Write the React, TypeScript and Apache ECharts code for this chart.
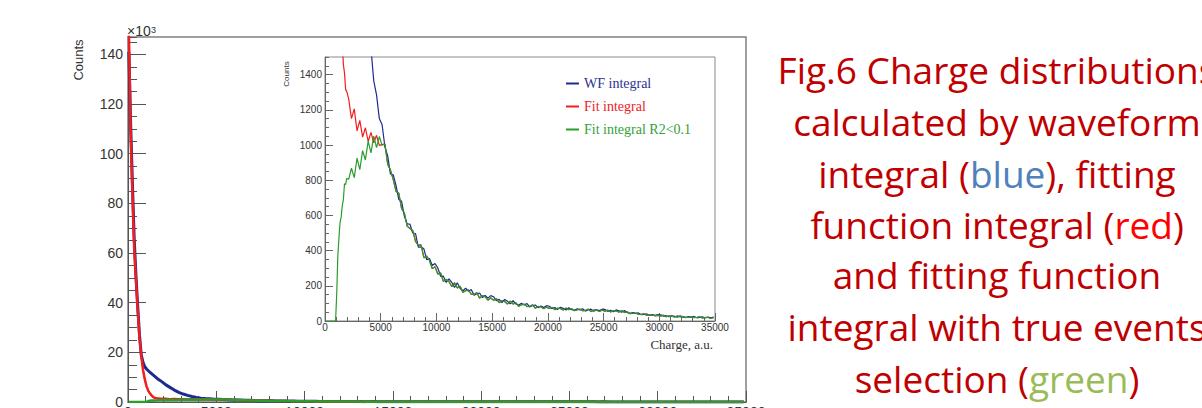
import React, { useEffect, useRef } from "react";
import * as echarts from "echarts";

// Bin centres (charge, a.u.)
const HEAD_CHARGE = [50, 150, 250, 350, 450, 550, 650, 750, 850, 950, 1050, 1150, 1250, 1350, 1450, 1550, 1650, 1750, 1850, 1950];
const TAIL_CHARGE = [
  2125, 2375, 2625, 2875, 3125, 3375, 3625, 3875, 4125, 4375, 4625, 4875,
  5125, 5375, 5625, 5875, 6125, 6375, 6625, 6875, 7125, 7375,
  7625, 7875, 8125, 8375, 8625, 8875, 9125, 9375, 9625, 9875,
  10125, 10375, 10625, 10875, 11125, 11375, 11625, 11875, 12125, 12375,
  12625, 12875, 13125, 13375, 13625, 13875, 14125, 14375, 14625, 14875,
  15125, 15375, 15625, 15875, 16125, 16375, 16625, 16875, 17125, 17375,
  17625, 17875, 18125, 18375, 18625, 18875, 19125, 19375, 19625, 19875,
  20125, 20375, 20625, 20875, 21125, 21375, 21625, 21875, 22125, 22375,
  22625, 22875, 23125, 23375, 23625, 23875, 24125, 24375, 24625, 24875,
  25125, 25375, 25625, 25875, 26125, 26375, 26625, 26875, 27125, 27375,
  27625, 27875, 28125, 28375, 28625, 28875, 29125, 29375, 29625, 29875,
  30125, 30375, 30625, 30875, 31125, 31375, 31625, 31875, 32125, 32375,
  32625, 32875, 33125, 33375, 33625, 33875, 34125, 34375, 34625, 34875,
];

// WF integral (blue), counts
const WF_HEAD = [141000, 112000, 88000, 66000, 51000, 38500, 27000, 19000, 16000, 14200, 13300, 12600, 11900, 11300, 10700, 10100, 9500, 9000, 8500, 8000];
const WF_TAIL = [
  7000, 5900, 4800, 3900, 3200, 2650, 2200, 1850, 1548, 1365, 1285, 1150,
  1115, 990, 938, 835, 830, 770, 690, 680, 595, 552,
  550, 500, 497, 420, 420, 410, 348, 355, 315, 327,
  301, 254, 255, 219, 240, 220, 191, 217, 185, 172,
  186, 169, 179, 146, 155, 159, 133, 145, 130, 144,
  138, 116, 123, 105, 122, 112, 97, 115, 97, 90,
  101, 91, 99, 80, 88, 91, 76, 85, 77, 87,
  84, 71, 76, 66, 78, 72, 63, 75, 64, 61,
  69, 63, 70, 56, 64, 67, 56, 64, 59, 67,
  66, 55, 61, 52, 63, 58, 50, 59, 48, 44,
  48, 43, 46, 36, 38, 40, 33, 36, 32, 36,
  35, 28, 30, 24, 30, 27, 22, 29, 22, 21,
  25, 22, 26, 18, 21, 24, 17, 22, 18, 23,
];

// Fit integral (red), counts
const FIT_HEAD = [150000, 108000, 84000, 62000, 49000, 37000, 26000, 18500, 13000, 9200, 6300, 4500, 3400, 2500, 1900, 1580, 1455, 1410, 1315, 1305];
const FIT_TAIL = [
  1262, 1150, 1205, 1080, 1140, 1045, 1098, 1020, 1072, 1012, 1055, 998,
  1002, 1005, 892, 856, 805, 737, 725, 639, 612, 540,
  525, 513, 453, 430, 431, 360, 368, 345, 298, 307,
  267, 272, 226, 236, 224, 196, 216, 188, 197, 163,
  172, 176, 153, 150, 161, 130, 144, 138, 119, 131,
  118, 127, 105, 114, 111, 97, 112, 97, 103, 84,
  92, 95, 83, 82, 91, 73, 82, 81, 71, 78,
  72, 77, 65, 72, 71, 63, 73, 65, 69, 59,
  63, 67, 59, 61, 67, 54, 62, 62, 55, 61,
  56, 61, 52, 57, 58, 51, 58, 50, 51, 42,
  43, 44, 39, 38, 40, 33, 36, 35, 30, 32,
  29, 32, 25, 28, 28, 23, 28, 24, 25, 20,
  21, 24, 20, 21, 23, 17, 20, 21, 16, 19,
];

// Fit integral R2<0.1 (green), counts
const R2_HEAD = [0, 0, 0, 0, 0, 0, 0, 0, 0, 0, 150, 370, 470, 560, 590, 655, 690, 780, 775, 810];
const R2_TAIL = [
  805, 868, 815, 925, 860, 968, 915, 1022, 955, 1050, 985, 1048,
  998, 1007, 890, 858, 803, 735, 727, 637, 614, 538,
  527, 515, 451, 431, 433, 358, 370, 344, 296, 309,
  266, 274, 224, 237, 223, 195, 218, 187, 198, 162,
  173, 177, 152, 151, 162, 129, 145, 137, 118, 132,
  117, 128, 104, 115, 110, 96, 113, 96, 104, 83,
  93, 96, 82, 83, 92, 72, 83, 80, 70, 79,
  71, 78, 64, 73, 70, 62, 74, 64, 70, 58,
  64, 68, 58, 60, 68, 53, 63, 61, 54, 62,
  55, 62, 51, 58, 57, 50, 59, 49, 52, 41,
  44, 45, 38, 37, 41, 32, 37, 34, 29, 33,
  28, 33, 24, 29, 27, 22, 29, 23, 26, 19,
  22, 25, 19, 20, 24, 16, 21, 20, 15, 20,
];

const SERIES_NAMES = ["WF integral", "Fit integral", "Fit integral R2<0.1"];
const CAPTION_LINES = [
  "Fig.6 Charge distributions",
  "calculated by waveform",
  "integral (blue), fitting",
  "function integral (red)",
  "and fitting function",
  "integral with true events",
  "selection (green)",
];

const BLUE = "#1f2a8e";
const RED = "#f21d1d";
const GREEN = "#2a9e2a";
const DARK_RED = "#c00000";

const CHARGE = [...HEAD_CHARGE, ...TAIL_CHARGE];
const WF = [...WF_HEAD, ...WF_TAIL];
const FIT = [...FIT_HEAD, ...FIT_TAIL];
const R2 = [...R2_HEAD, ...R2_TAIL];

const pairs = (vals: number[]) => CHARGE.map((x, i) => [x, vals[i]]);

export default function App() {
  const ref = useRef<HTMLDivElement>(null);
  useEffect(() => {
    if (!ref.current) return;
    const chart = echarts.init(ref.current, undefined, { renderer: "svg" });
    const axisFont = "Liberation Sans";
    const mkLine = (name: string, vals: number[], color: string, xi: number, yi: number, w: number) => ({
      type: "line",
      name,
      xAxisIndex: xi,
      yAxisIndex: yi,
      data: pairs(vals),
      symbol: "none",
      showSymbol: false,
      lineStyle: { color, width: w },
      itemStyle: { color },
    });
    const capFont = { fontSize: 37, fontFamily: "Open Sans" };
    const rich = {
      r: { fill: DARK_RED, ...capFont },
      b: { fill: "#4f81bd", ...capFont },
      d: { fill: "#ff0000", ...capFont },
      g: { fill: "#9bbb59", ...capFont },
    };
    const capTexts = [
      `{r|${CAPTION_LINES[0]}}`,
      `{r|${CAPTION_LINES[1]}}`,
      `{r|integral (}{b|blue}{r|), fitting}`,
      `{r|function integral (}{d|red}{r|)}`,
      `{r|${CAPTION_LINES[4]}}`,
      `{r|${CAPTION_LINES[5]}}`,
      `{r|selection (}{g|green}{r|)}`,
    ];
    const baselines = [81, 133, 185, 236, 286, 338, 390];

    chart.setOption({
      animation: false,
      backgroundColor: "#ffffff",
      grid: [
        { left: 128, top: 37, width: 618, height: 365, show: true, borderColor: "#808080", borderWidth: 1.5, backgroundColor: "transparent" },
        { left: 325, top: 57, width: 390, height: 264, show: true, borderColor: "#8a8a8a", borderWidth: 1, backgroundColor: "#ffffff" },
      ],
      legend: {
        orient: "vertical",
        left: 561,
        top: 71,
        icon: "rect",
        itemWidth: 13,
        itemHeight: 2,
        itemGap: 8,
        textStyle: { fontFamily: "Liberation Serif", fontSize: 14, lineHeight: 15 },
        data: [
          { name: SERIES_NAMES[0], textStyle: { color: "#2e3192" } },
          { name: SERIES_NAMES[1], textStyle: { color: "#ec2228" } },
          { name: SERIES_NAMES[2], textStyle: { color: "#33a03a" } },
        ],
      },
      xAxis: [
        {
          gridIndex: 0, type: "value", min: 0, max: 35000, interval: 5000,
          axisLine: { show: true, lineStyle: { color: "#555", width: 1 } },
          axisTick: { show: true, inside: true, length: 11, lineStyle: { color: "#555" } },
          minorTick: { show: true, splitNumber: 5, length: 6, lineStyle: { color: "#555" } },
          axisLabel: { fontSize: 14, color: "#333", margin: 3, fontFamily: axisFont, formatter: (v: number) => String(v) },
          splitLine: { show: false },
        },
        {
          gridIndex: 1, type: "value", min: 0, max: 35000, interval: 5000,
          axisLine: { show: true, lineStyle: { color: "#666", width: 1 } },
          axisTick: { show: true, inside: true, length: 8, lineStyle: { color: "#666" } },
          minorTick: { show: true, splitNumber: 5, length: 4, lineStyle: { color: "#666" } },
          axisLabel: { fontSize: 10, color: "#333", margin: 1, fontFamily: axisFont, formatter: (v: number) => String(v) },
          splitLine: { show: false },
        },
      ],
      yAxis: [
        {
          gridIndex: 0, type: "value", position: "left", min: 0, max: 147000, interval: 20000,
          axisLine: { show: true, lineStyle: { color: "#555", width: 1 } },
          axisTick: { show: true, inside: true, length: 18, lineStyle: { color: "#555" } },
          axisLabel: {
            fontSize: 14, color: "#333", margin: 5, fontFamily: axisFont, showMaxLabel: false,
            formatter: (v: number) => (v % 20000 === 0 ? String(v / 1000) : ""),
          },
          splitLine: { show: false },
        },
        {
          gridIndex: 0, type: "value", position: "left", min: 0, max: 147000, interval: 5000,
          axisLine: { show: false },
          axisTick: { show: true, inside: true, length: 9, lineStyle: { color: "#555" } },
          axisLabel: { show: false },
          splitLine: { show: false },
        },
        {
          gridIndex: 1, type: "value", position: "left", min: 0, max: 1500, interval: 200,
          axisLine: { show: true, lineStyle: { color: "#666", width: 1 } },
          axisTick: { show: true, inside: true, length: 8, lineStyle: { color: "#666" } },
          axisLabel: {
            fontSize: 10, color: "#333", margin: 3, fontFamily: axisFont, showMaxLabel: false,
            formatter: (v: number) => (v % 200 === 0 ? String(v) : ""),
          },
          splitLine: { show: false },
        },
        {
          gridIndex: 1, type: "value", position: "left", min: 0, max: 1500, interval: 50,
          axisLine: { show: false },
          axisTick: { show: true, inside: true, length: 4, lineStyle: { color: "#666" } },
          axisLabel: { show: false },
          splitLine: { show: false },
        },
      ],
      series: [
        mkLine(SERIES_NAMES[0], WF, BLUE, 0, 0, 3),
        mkLine(SERIES_NAMES[1], FIT, RED, 0, 0, 2.5),
        mkLine(SERIES_NAMES[2], R2, GREEN, 0, 0, 2.5),
        mkLine(SERIES_NAMES[1], FIT, RED, 1, 2, 1.2),
        mkLine(SERIES_NAMES[0], WF, BLUE, 1, 2, 1.2),
        mkLine(SERIES_NAMES[2], R2, GREEN, 1, 2, 1.2),
      ],
      graphic: [
        { type: "text", x: 127, y: 38, style: { text: "×10", fill: "#333", fontSize: 14, fontFamily: axisFont, align: "left", verticalAlign: "bottom" } },
        { type: "text", x: 151, y: 34, style: { text: "3", fill: "#333", fontSize: 9, fontFamily: axisFont, align: "left", verticalAlign: "bottom" } },
        { type: "text", x: 78, y: 60, rotation: Math.PI / 2, style: { text: "Counts", fill: "#333", fontSize: 13, fontFamily: axisFont, align: "center", verticalAlign: "middle" } },
        { type: "text", x: 286, y: 74, rotation: Math.PI / 2, style: { text: "Counts", fill: "#333", fontSize: 8, fontFamily: axisFont, align: "center", verticalAlign: "middle" } },
        { type: "text", x: 713, y: 344, style: { text: "Charge, a.u.", fill: "#333", fontSize: 13, fontFamily: "Liberation Serif", align: "right", verticalAlign: "middle" } },
        ...capTexts.map((t, i) => ({
          type: "text",
          x: 997,
          y: baselines[i] - 12,
          style: { text: t, rich, ...capFont, fill: DARK_RED, align: "center", verticalAlign: "middle" },
        })),
      ],
    });
    return () => chart.dispose();
  }, []);
  return <div ref={ref} style={{ position: "fixed", left: 0, top: 0, width: 1202, height: 430, background: "#fff" }} />;
}
